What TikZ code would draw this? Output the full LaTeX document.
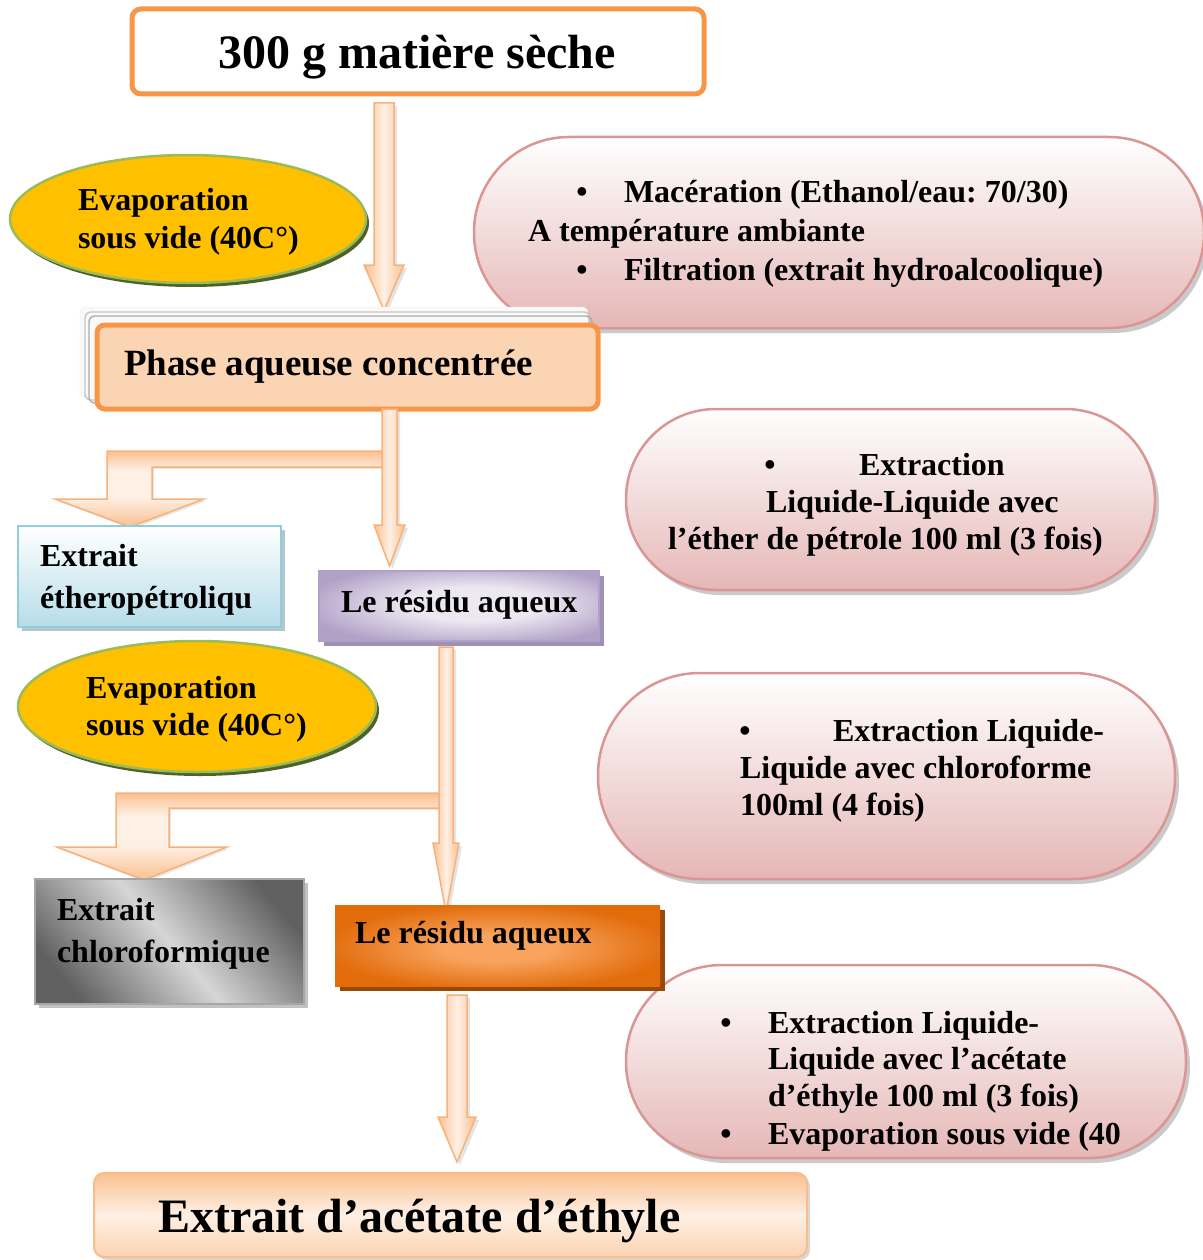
\documentclass[tikz,border=0pt]{standalone}
\usepackage{fontspec}
\setmainfont{Liberation Serif}
\usetikzlibrary{shapes.geometric,shadows,calc}
\frenchspacing

\definecolor{orbord}{HTML}{F79646}
\definecolor{peach}{HTML}{FAC090}
\definecolor{peachlt}{HTML}{FEF0E5}
\definecolor{peachfill}{HTML}{FBD4B4}
\definecolor{arrline}{HTML}{F7B27A}
\definecolor{yel}{HTML}{FFC000}
\definecolor{olive}{HTML}{9BBB59}
\definecolor{olivedk}{HTML}{4F6228}
\definecolor{pinkbot}{HTML}{E5B7B6}
\definecolor{pinkline}{HTML}{D99694}
\definecolor{bluebot}{HTML}{B6DDE8}
\definecolor{blueline}{HTML}{92CDDC}
\definecolor{blueshadow}{HTML}{9DB9C4}
\definecolor{pur}{HTML}{B2A1C7}
\definecolor{purlt}{HTML}{ECE8F1}
\definecolor{purshadow}{HTML}{9585AB}
\definecolor{grydk}{HTML}{606060}
\definecolor{grylt}{HTML}{D6D6D6}
\definecolor{orng}{HTML}{E26B0A}
\definecolor{ornglt}{HTML}{F8A45E}
\definecolor{brownsh}{HTML}{984807}

% shadings used by the shapes
\pgfdeclarehorizontalshading{arrowshade}{100bp}{color(0bp)=(peach); color(25bp)=(peach); color(50bp)=(peachlt); color(75bp)=(peach); color(100bp)=(peach)}
\pgfdeclareverticalshading{bentshade}{100bp}{color(0bp)=(peach); color(25bp)=(peach); color(45bp)=(peachlt); color(62bp)=(peachlt); color(75bp)=(peach); color(100bp)=(peach)}
\pgfdeclarehorizontalshading{greyshade}{100bp}{color(0bp)=(grydk); color(24bp)=(grydk); color(50bp)=(grylt); color(76bp)=(grydk); color(100bp)=(grydk)}
\pgfdeclareradialshading{purshade}{\pgfpoint{4bp}{2bp}}{color(0bp)=(purlt); color(12bp)=(purlt); color(30bp)=(pur); color(50bp)=(pur)}
\pgfdeclareradialshading{orshade}{\pgfpoint{0bp}{-2bp}}{color(0bp)=(ornglt); color(8bp)=(ornglt); color(27bp)=(orng); color(50bp)=(orng)}
\pgfdeclareverticalshading{finalshade}{100bp}{color(0bp)=(peach!70); color(25bp)=(peach!70); color(50bp)=(peachlt); color(75bp)=(peach); color(100bp)=(peach)}

% a downward block arrow: x centre, shaft half-width, head half-width, top, head base, tip
\newcommand\blockdown[6]{%
  \draw[blockarr] ({#1-#2},#4) -- ({#1+#2},#4) -- ({#1+#2},#5) -- ({#1+#3},#5)
    -- (#1,#6) -- ({#1-#3},#5) -- ({#1-#2},#5) -- cycle;}

\begin{document}
\begin{tikzpicture}[x=1pt,y=-1pt,
  every node/.style={inner sep=0pt, outer sep=0pt},
  lbl/.style={anchor=base west, font=\fontsize{32}{38}\selectfont\bfseries},
  bul/.style={anchor=base, font=\fontsize{32}{38}\selectfont\bfseries},
  pill/.style={draw=pinkline, line width=2.5pt, top color=white, bottom color=pinkbot,
    drop shadow={shadow xshift=4pt, shadow yshift=-5pt, fill=gray!70, opacity=.6}},
  evap/.style={ellipse, draw=olive, line width=2.5pt, fill=yel,
    drop shadow={shadow xshift=3pt, shadow yshift=-4pt, fill=olivedk, opacity=1}},
  blockarr/.style={shading=arrowshade, draw=arrline, line width=1.5pt,
    drop shadow={shadow xshift=3pt, shadow yshift=-3pt, fill=gray!60, opacity=.35}},
  bentarr/.style={shading=bentshade, draw=arrline, line width=1.5pt,
    drop shadow={shadow xshift=2pt, shadow yshift=-2pt, fill=gray!60, opacity=.3}}
]
\useasboundingbox (0,0) rectangle (1202,1260);

% process description pills
\node[pill, minimum width=730pt, minimum height=191pt, rounded corners=95pt] (p1) at (839,232.5) {};
\node[pill, minimum width=529pt, minimum height=181pt, rounded corners=90pt] (p2) at (890.5,499.5) {};
\node[pill, minimum width=577pt, minimum height=206pt, rounded corners=102pt] (p3) at (886.5,776) {};
\node[pill, minimum width=560pt, minimum height=193pt, rounded corners=96pt] (p4) at (906,1061.5) {};

\node[bul] (p1b1) at (582,203) {•};
\node[lbl] (p1l1) at (624,203) {Macération (Ethanol/eau: 70/30)};
\node[lbl] (p1l2) at (528,241) {A température ambiante};
\node[bul] (p1b2) at (582,280) {•};
\node[lbl] (p1l3) at (624,280) {Filtration (extrait hydroalcoolique)};

\node[bul] (p2b1) at (770,475) {•};
\node[lbl] (p2l1) at (859,475) {Extraction};
\node[lbl] (p2l2) at (766,512) {Liquide-Liquide avec};
\node[lbl] (p2l3) at (668,549) {l’éther de pétrole 100 ml (3 fois)};

\node[bul] (p3b1) at (745,741) {•};
\node[lbl] (p3l1) at (833,741) {Extraction Liquide-};
\node[lbl] (p3l2) at (740,778) {Liquide avec chloroforme};
\node[lbl] (p3l3) at (740,815) {100ml (4 fois)};

\node[bul] (p4b1) at (726,1033) {•};
\node[lbl] (p4l1) at (768,1033) {Extraction Liquide-};
\node[lbl] (p4l2) at (768,1069) {Liquide avec l’acétate};
\node[lbl] (p4l3) at (768,1106) {d’éthyle 100 ml (3 fois)};
\node[bul] (p4b2) at (726,1144) {•};
\node[lbl] (p4l4) at (768,1144) {Evaporation sous vide (40};

% starting material
\node[draw=orbord, line width=5pt, fill=white, rounded corners=9pt,
  minimum width=572pt, minimum height=85pt] (start) at (418,51.5) {};
\node[anchor=base, font=\fontsize{48}{56}\selectfont\bfseries] (starttxt) at (417,69) {300 g matière sèche};

% evaporation ellipses
\node[evap, minimum width=356pt, minimum height=128pt] (ev1) at (188,219) {};
\node[lbl] (ev1a) at (78,211) {Evaporation};
\node[lbl] (ev1b) at (78,248) {sous vide (40C°)};
\node[evap, minimum width=358pt, minimum height=131pt] (ev2) at (197,706.5) {};
\node[lbl] (ev2a) at (86,698) {Evaporation};
\node[lbl] (ev2b) at (86,735) {sous vide (40C°)};

% arrow to the concentrated aqueous phase
\blockdown{384}{10}{20}{103}{265}{310}

% concentrated aqueous phase with its stacked backing
\draw[gray!15, fill=gray!5, rounded corners=6pt] (80,307) rectangle (588,397);
\draw[gray!45, line width=1.4pt, rounded corners=6pt] (85,312) rectangle (590,400);
\draw[gray!65, line width=1.4pt, rounded corners=6pt] (89,316) rectangle (592,403);
\node[draw=orbord, line width=5pt, fill=peachfill, rounded corners=8pt,
  minimum width=501pt, minimum height=84pt] (phase) at (347.5,367) {};
\node[anchor=base west, font=\fontsize{37}{44}\selectfont\bfseries] (phasetxt) at (124,375) {Phase aqueuse concentrée};

% split after petroleum ether extraction
\draw[bentarr] (383,451) -- (107,451) -- (107,499) -- (55,499) -- (130,527) -- (204,499)
  -- (152,499) -- (152,467) -- (383,467) -- cycle;
\blockdown{389.5}{7.5}{15.5}{409}{525}{566}

\node[draw=blueline, line width=2.5pt, top color=white, bottom color=bluebot,
  drop shadow={shadow xshift=4pt, shadow yshift=-4pt, fill=blueshadow, opacity=.8},
  minimum width=263pt, minimum height=101pt] (ether) at (149.5,576.5) {};
\node[lbl] (ethera) at (40,566) {Extrait};
\node[lbl] (etherb) at (40,608) {étheropétroliqu};

\node[draw=pur, line width=2pt, shading=purshade,
  drop shadow={shadow xshift=5pt, shadow yshift=-5pt, fill=purshadow, opacity=.9},
  minimum width=280pt, minimum height=70pt] (res1) at (459,606) {};
\node[lbl] (res1txt) at (341,612) {Le résidu aqueux};

% split after chloroform extraction
\draw[bentarr] (441,793) -- (116,793) -- (116,847) -- (57,847) -- (144,880) -- (227,847)
  -- (169,847) -- (169,808) -- (441,808) -- cycle;
\blockdown{446}{7}{13}{647}{843}{912}

\node[draw=gray!70, line width=2.5pt, shading=greyshade, shading angle=40,
  drop shadow={shadow xshift=4pt, shadow yshift=-4pt, fill=gray!60, opacity=.8},
  minimum width=269pt, minimum height=125pt] (chloro) at (169.5,941.5) {};
\node[lbl] (chloroa) at (57,920) {Extrait};
\node[lbl] (chlorob) at (57,962) {chloroformique};

\node[shading=orshade,
  drop shadow={shadow xshift=5pt, shadow yshift=-5pt, fill=brownsh, opacity=1},
  minimum width=325pt, minimum height=81pt] (res2) at (497.5,945.5) {};
\node[lbl] (res2txt) at (355,943) {Le résidu aqueux};

% final extract
\blockdown{457}{10}{19}{995}{1117}{1162}
\node[draw=peach!90!orbord, line width=2pt, shading=finalshade, rounded corners=10pt,
  drop shadow={shadow xshift=3pt, shadow yshift=-3pt, fill=gray!60, opacity=.5},
  minimum width=713pt, minimum height=84pt] (final) at (450.5,1215) {};
\node[anchor=base west, font=\fontsize{48}{56}\selectfont\bfseries] (finaltxt) at (158,1232) {Extrait d’acétate d’éthyle};
\end{tikzpicture}
\end{document}
